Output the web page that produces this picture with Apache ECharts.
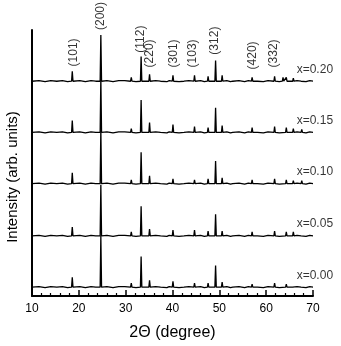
<!DOCTYPE html>
<html><head><meta charset="utf-8">
<script src="https://cdn.jsdelivr.net/npm/echarts@6/dist/echarts.min.js"></script>
<style>html,body{margin:0;padding:0;background:#fff}#c{width:341px;height:346px}</style>
</head><body><div id="c"></div>
<script>
// sample names and vertical offsets (stacked display, arb. units)
const sampleNames = ['x=0.00', 'x=0.05', 'x=0.10', 'x=0.15', 'x=0.20'];
const sampleOffsets = [9, 61, 114, 166, 218];
// peak lists per sample: [2theta, intensity above baseline]
const peaks000 = [[18.6,10],[24.7,52],[31.2,4],[33.3,31],[35.1,7],[37.6,2],[40.1,6],[42.6,2],[44.7,4],[47.6,4],[49.2,22],[50.6,5],[53.0,2],[57.0,3],[58.3,2],[61.8,4],[64.3,3],[65.8,2],[67.6,2]];
const peaks005 = [[18.6,9],[24.7,52],[31.2,4],[33.3,30],[35.1,7],[37.6,2],[40.1,6],[42.6,2],[44.7,6],[47.6,5],[49.2,22],[50.6,5],[53.0,2],[57.0,4],[58.3,2],[61.8,5],[64.3,4],[65.8,4],[67.6,2]];
const peaks010 = [[18.6,11],[24.7,55],[31.2,4],[33.3,32],[35.1,8],[37.6,2],[40.1,5],[42.6,2],[44.7,4],[47.6,5],[49.2,23],[50.6,6],[53.0,2],[57.0,4],[58.3,2],[61.8,5],[64.3,4],[65.8,3],[67.6,3]];
const peaks015 = [[18.6,12],[24.7,55],[31.2,4],[33.3,33],[35.1,10],[37.6,2],[40.1,8],[42.6,2],[44.7,6],[47.6,5],[49.2,25],[50.6,7],[53.0,2],[57.0,5],[58.3,2],[61.8,6],[64.3,5],[65.8,4],[67.6,3]];
const peaks020 = [[18.6,10],[24.7,47],[31.2,4],[33.3,25],[35.1,7],[37.6,2],[40.1,6],[42.6,2],[44.7,6],[47.6,5],[49.2,21],[50.6,6],[53.0,2],[57.0,4],[58.3,2],[61.8,5],[63.6,4],[64.3,4],[65.8,3],[67.6,2]];
const peakSets = [peaks000, peaks005, peaks010, peaks015, peaks020];
// small baseline jags: [2theta, offset]
const ripple = [[11.5,0.6],[12.8,-0.5],[14.0,0.6],[15.3,0],[16.5,0.6],[17.6,-0.5],[20.2,0.6],[21.4,-0.5],[22.6,0.6],[23.6,0],[26.0,0.6],[27.3,-0.5],[28.5,0.6],[29.8,0.6],[32.2,-0.5],[36.4,0.6],[38.8,-0.5],[39.3,0.6],[41.4,-0.5],[43.5,0.6],[46.0,0.6],[46.8,-0.5],[51.6,0.6],[52.4,-0.5],[54.2,0.6],[55.4,-0.5],[56.2,0.6],[59.4,-0.5],[60.4,0.6],[62.8,-0.5],[66.6,0.6],[68.5,-0.5],[69.3,0.6]];
// Miller index labels: [2theta, label bottom (arb.), text]
const hklPos = [18.8, 24.6, 33.2, 35.2, 40.2, 44.4, 49.1, 57.2, 61.7];
const hklY = [233, 270, 247, 232, 232, 232, 245, 230, 232];
const hklText = ['(101)','(200)','(112)','(220)','(301)','(103)','(312)','(420)','(332)'];
const xTicks = [10, 20, 30, 40, 50, 60, 70];

function buildTrace(peaks, off) {
  const pts = [[10, off], [70, off]];
  ripple.forEach(r => pts.push([r[0], off + r[1]]));
  peaks.forEach(p => {
    pts.push([p[0] - 0.15, off]);
    pts.push([p[0], off + p[1]]);
    pts.push([p[0] + 0.15, off]);
  });
  pts.sort((a, b) => a[0] - b[0]);
  return pts;
}

const FONT = 'Liberation Sans, Arial, sans-serif';
const series = peakSets.map((pk, i) => ({
  type: 'line', data: buildTrace(pk, sampleOffsets[i]), symbol: 'none',
  lineStyle: { color: '#000', width: 1.3 }, animation: false, clip: false
}));
series.push({
  type: 'scatter', symbolSize: 0, clip: false, animation: false,
  data: sampleNames.map((n, i) => [70.4, sampleOffsets[i] + 12, n]),
  label: { show: true, position: [0, 0], align: 'center', verticalAlign: 'middle',
    formatter: p => p.value[2], color: '#000', fontSize: 12, fontFamily: FONT }
});
series.push({
  type: 'scatter', symbolSize: 0, clip: false, animation: false,
  data: hklPos.map((x, i) => [x, hklY[i], hklText[i]]),
  label: { show: true, position: [0, 0], align: 'left', verticalAlign: 'middle', rotate: 90,
    formatter: p => p.value[2], color: '#000', fontSize: 12, fontFamily: FONT }
});

const chart = echarts.init(document.getElementById('c'));
chart.setOption({
  animation: false,
  grid: { left: 32, right: 28, top: 30, bottom: 46 },
  xAxis: {
    type: 'value', min: 10, max: 70, interval: 10,
    axisLine: { lineStyle: { color: '#000', width: 2 } },
    axisTick: { inside: true, length: 6, lineStyle: { color: '#000', width: 1.5 } },
    minorTick: { show: true, splitNumber: 5, length: 3, lineStyle: { color: '#000', width: 1.2 } },
    axisLabel: { color: '#000', fontSize: 12, fontFamily: FONT, margin: 7,
      customValues: xTicks },
    splitLine: { show: false },
    name: '2\u0398 (degree)', nameLocation: 'middle', nameGap: 29,
    nameTextStyle: { color: '#000', fontSize: 16, fontFamily: FONT }
  },
  yAxis: {
    type: 'value', min: 0, max: 270,
    axisLine: { show: true, lineStyle: { color: '#000', width: 2 } },
    axisTick: { show: false }, axisLabel: { show: false }, splitLine: { show: false }
  },
  graphic: [{
    type: 'text', x: 13, y: 177, rotation: Math.PI / 2,
    style: { text: 'Intensity (arb. units)', fill: '#000', fontSize: 15, fontFamily: FONT,
      align: 'center', verticalAlign: 'middle' }
  }],
  series: series
});
</script></body></html>
